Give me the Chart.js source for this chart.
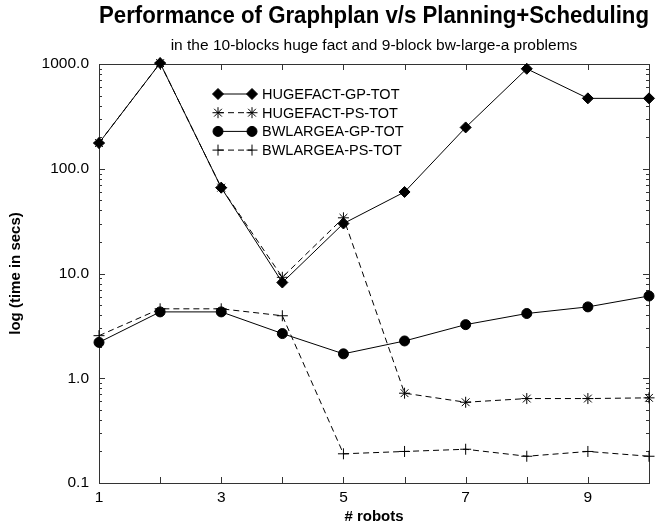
<!DOCTYPE html>
<html>
<head>
<meta charset="utf-8">
<script src="https://cdn.jsdelivr.net/npm/chart.js@4/dist/chart.umd.min.js"></script>
<style>
  html, body { margin: 0; padding: 0; background: #fff; }
</style>
</head>
<body>
<canvas id="perfChart" width="668" height="529"></canvas>
<script>
// values
const robots = [1, 2, 3, 4, 5, 6, 7, 8, 9, 10];
const hugefactGP = [176, 1020, 66, 8.2, 30, 60, 248, 900, 470, 470];
const hugefactPS = [176, 1020, 66, 9.2, 34, 0.72, 0.59, 0.64, 0.64, 0.65];
const bwlargeaGP = [2.2, 4.3, 4.3, 2.67, 1.71, 2.27, 3.25, 4.15, 4.8, 6.1];
const bwlargeaPS = [2.55, 4.6, 4.6, 3.95, 0.19, 0.2, 0.21, 0.18, 0.2, 0.18];
const xTickLabels = [1, 3, 5, 7, 9];
const yTickLabels = [0.1, 1, 10, 100, 1000];

const FONT = "'Liberation Sans', Arial, sans-serif";

function series(label, values, style, radius, dashed) {
  return {
    label: label,
    data: robots.map((x, i) => ({ x: x, y: values[i] })),
    pointStyle: style,
    pointRadius: radius,
    pointHoverRadius: radius,
    pointBorderWidth: 1,
    borderColor: '#000',
    backgroundColor: '#000',
    pointBackgroundColor: '#000',
    pointBorderColor: '#000',
    borderWidth: 1,
    borderDash: dashed ? [6, 4] : [],
    tension: 0,
    clip: false,
  };
}

// gnuplot-like frame with inward ticks on all four sides
const frameTicks = {
  id: 'frameTicks',
  beforeDatasetsDraw(chart) {
    const { ctx, chartArea: a, scales } = chart;
    ctx.save();
    ctx.strokeStyle = '#333';
    ctx.lineWidth = 1;
    ctx.strokeRect(Math.round(a.left) + 0.5, Math.round(a.top) + 0.5,
      Math.round(a.right - a.left), Math.round(a.bottom - a.top));
    ctx.beginPath();
    for (let d = -1; d <= 3; d++) {
      for (let k = 1; k <= 9; k++) {
        const v = k * Math.pow(10, d);
        if (v > 1000.0001) break;
        const y = Math.round(scales.y.getPixelForValue(v)) + 0.5;
        const len = k === 1 ? 6 : 3;
        ctx.moveTo(a.left, y); ctx.lineTo(a.left + len, y);
        ctx.moveTo(a.right, y); ctx.lineTo(a.right - len, y);
      }
    }
    for (let x = 1; x <= 10; x++) {
      const px = Math.round(scales.x.getPixelForValue(x)) + 0.5;
      ctx.moveTo(px, a.bottom); ctx.lineTo(px, a.bottom - 6);
      ctx.moveTo(px, a.top); ctx.lineTo(px, a.top + 6);
    }
    ctx.stroke();
    ctx.restore();
  }
};

// legend drawn as marker-line-marker plus label, like the original
const lineLegend = {
  id: 'lineLegend',
  afterDatasetsDraw(chart) {
    const { ctx, chartArea: a } = chart;
    const x0 = a.left + 119, x1 = a.left + 153, tx = a.left + 163;
    ctx.save();
    ctx.font = '14.5px ' + FONT;
    ctx.textBaseline = 'middle';
    ctx.textAlign = 'left';
    chart.data.datasets.forEach((ds, i) => {
      const y = a.top + 30 + i * 18.7;
      ctx.strokeStyle = '#000';
      ctx.fillStyle = '#000';
      ctx.lineWidth = 1;
      ctx.setLineDash(ds.borderDash);
      ctx.beginPath();
      ctx.moveTo(x0, y); ctx.lineTo(x1, y);
      ctx.stroke();
      ctx.setLineDash([]);
      const opts = { pointStyle: ds.pointStyle, radius: ds.pointRadius, rotation: 0, borderWidth: 1 };
      Chart.helpers.drawPoint(ctx, opts, x0, y);
      Chart.helpers.drawPoint(ctx, opts, x1, y);
      ctx.fillText(ds.label, tx, y + 1);
    });
    ctx.restore();
  }
};

const config = {
  type: 'line',
  data: {
    datasets: [
      series('HUGEFACT-GP-TOT', hugefactGP, 'rectRot', 5.5, false),
      series('HUGEFACT-PS-TOT', hugefactPS, 'star', 5.5, true),
      series('BWLARGEA-GP-TOT', bwlargeaGP, 'circle', 5, false),
      series('BWLARGEA-PS-TOT', bwlargeaPS, 'cross', 5.5, true),
    ],
  },
  options: {
    responsive: false,
    animation: false,
    events: [],
    layout: { padding: { left: 0, right: 19, top: 0, bottom: 0 } },
    plugins: {
      legend: { display: false },
      tooltip: { enabled: false },
      title: {
        display: true,
        fullSize: false,
        text: 'Performance of Graphplan v/s Planning+Scheduling',
        color: '#000',
        font: { family: FONT, size: 24.5, weight: 'bold', lineHeight: 1.2 },
        padding: { top: 2, bottom: 5.3 },
      },
      subtitle: {
        display: true,
        fullSize: false,
        text: 'in the 10-blocks huge fact and 9-block bw-large-a problems',
        color: '#000',
        font: { family: FONT, size: 15.5, lineHeight: 1.2 },
        padding: { top: 0, bottom: 8.7 },
      },
    },
    scales: {
      x: {
        type: 'linear',
        position: 'bottom',
        min: 1,
        max: 10,
        afterBuildTicks: (s) => { s.ticks = xTickLabels.map(v => ({ value: v })); },
        afterFit: (s) => { s.height = 46; },
        grid: { display: false, drawTicks: false },
        border: { display: false },
        ticks: {
          color: '#000',
          padding: 5,
          font: { family: FONT, size: 15.5 },
          autoSkip: false,
          maxRotation: 0,
        },
        title: {
          display: true,
          text: '# robots',
          color: '#000',
          font: { family: FONT, size: 15, weight: 'bold' },
          padding: { top: 0, bottom: 3 },
        },
      },
      y: {
        type: 'logarithmic',
        min: 0.1,
        max: 1000,
        afterBuildTicks: (s) => { s.ticks = yTickLabels.map(v => ({ value: v })); },
        afterFit: (s) => { s.width = 99; },
        grid: { display: false, drawTicks: false },
        border: { display: false },
        ticks: {
          color: '#000',
          padding: 10,
          font: { family: FONT, size: 15.5 },
          autoSkip: false,
          callback: (v) => Number(v).toFixed(1),
        },
        title: {
          display: true,
          text: 'log (time in secs)',
          color: '#000',
          font: { family: FONT, size: 15, weight: 'bold' },
          padding: { top: 7, bottom: 0 },
        },
      },
    },
  },
  plugins: [frameTicks, lineLegend],
};

const perfChart = new Chart(document.getElementById('perfChart'), config);
</script>
</body>
</html>
